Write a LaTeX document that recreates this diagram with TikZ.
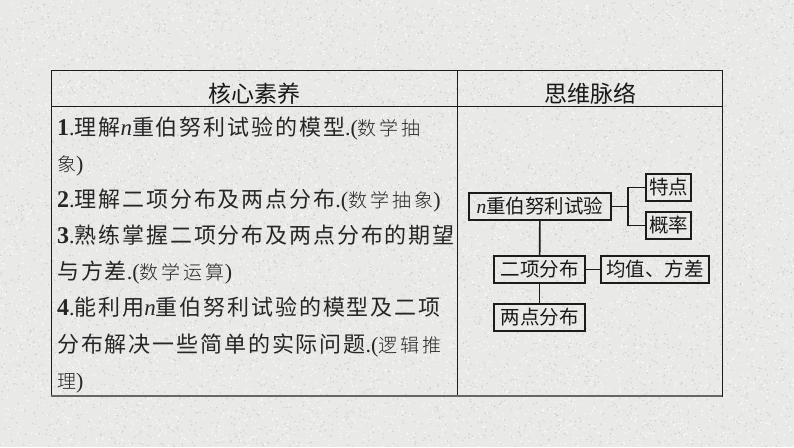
\documentclass[tikz,border=0pt]{standalone}
\usepackage{fontspec}
\setmainfont{Liberation Serif}
\newfontfamily\cjk[LetterSpace=8.5]{Noto Sans CJK SC}
\newfontfamily\cjkplain{Noto Sans CJK SC}
\newfontfamily\cjkthin[LetterSpace=16]{Noto Sans CJK SC Light}
\definecolor{paper}{RGB}{233,233,232}
\definecolor{speckdark}{RGB}{207,207,206}
\definecolor{specklight}{RGB}{250,250,249}
\definecolor{inkline}{RGB}{28,28,28}
\tikzset{
    cell/.style={draw=inkline,line width=1pt},
    headtext/.style={font=\fontsize{23}{23}\selectfont\cjkplain,inner sep=0pt,text=black!90},
    linetext/.style={anchor=base west,inner sep=0pt,font=\fontsize{22}{22}\selectfont\cjk,text=black!85},
    mapbox/.style={draw=inkline,line width=1.6pt,inner sep=0pt,font=\fontsize{19.5}{19.5}\selectfont\cjkplain,text=black!90},
    mapline/.style={draw=inkline,line width=1.7pt}
}
\newcommand{\tagtext}[1]{{\fontsize{19}{19}\selectfont\cjkthin #1}}
\newcommand{\varn}{{\rmfamily\itshape\fontsize{23}{23}\selectfont n}}
\newcommand{\itemno}[1]{{\rmfamily\bfseries\fontsize{24}{24}\selectfont #1}{\rmfamily.}}
\newcommand{\stopmark}{{\rmfamily.(}}
\begin{document}
\begin{tikzpicture}[x=1pt,y=-1pt]
    \useasboundingbox (0,0) rectangle (794,447);
    \fill[paper] (0,0) rectangle (794,447);
    % speckled paper
    \pgfmathsetseed{7}
    \foreach \k in {1,...,16}{
        \fill[speckdark] foreach \i in {1,...,400}{({rnd*793},{rnd*446}) rectangle +(1.1,1.1)};
        \fill[specklight] foreach \i in {1,...,500}{({rnd*793},{rnd*446}) rectangle +(1.2,1.2)};
    }

    % table
    \draw[cell] (51,70) rectangle (722,396);
    \draw[cell] (51,106) -- (722,106);
    \draw[cell] (457,70) -- (457,396);
    \draw[black!60,line width=1.8pt] (51,396) -- (722,396);
    \node[headtext] (headleft) at (254,94) {核心素养};
    \node[headtext] (headright) at (590,94) {思维脉络};

    % left column
    \node[linetext] (lineone) at (57,135) {\itemno{1}理解\varn 重伯努利试验的模型\stopmark\tagtext{数学抽}};
    \node[linetext] (linetwo) at (57,171) {\tagtext{象}{\rmfamily)}};
    \node[linetext] (linethree) at (57,207) {\itemno{2}理解二项分布及两点分布\stopmark\tagtext{数学抽象}{\rmfamily)}};
    \node[linetext] (linefour) at (57,243) {\itemno{3}熟练掌握二项分布及两点分布的期望};
    \node[linetext] (linefive) at (57,279) {与方差\stopmark\tagtext{数学运算}{\rmfamily)}};
    \node[linetext] (linesix) at (57,315) {\itemno{4}能利用\varn 重伯努利试验的模型及二项};
    \node[linetext] (lineseven) at (57,352) {分布解决一些简单的实际问题\stopmark\tagtext{逻辑推}};
    \node[linetext] (lineeight) at (57,388) {\tagtext{理}{\rmfamily)}};

    % right column
    \node[mapbox,minimum width=142pt,minimum height=27pt] (trial) at (540,206.5) {{\rmfamily\itshape n}重伯努利试验};
    \node[mapbox,minimum width=45pt,minimum height=27pt] (trait) at (668.5,187.5) {特点};
    \node[mapbox,minimum width=45pt,minimum height=27pt] (prob) at (668.5,225.5) {概率};
    \node[mapbox,minimum width=91pt,minimum height=27pt] (binom) at (539.5,269.5) {二项分布};
    \node[mapbox,minimum width=108pt,minimum height=27pt] (mean) at (655,269.5) {均值、方差};
    \node[mapbox,minimum width=91pt,minimum height=27pt] (twopt) at (539.5,317.5) {两点分布};
    \coordinate (fork) at (628,206.5);

    \draw[mapline] (trial.east) -- (fork);
    \draw[mapline] (fork) |- (trait.west);
    \draw[mapline] (fork) |- (prob.west);
    \draw[mapline] (trial) -- (binom);
    \draw[mapline] (binom) -- (mean);
    \draw[mapline] (binom) -- (twopt);
\end{tikzpicture}
\end{document}
